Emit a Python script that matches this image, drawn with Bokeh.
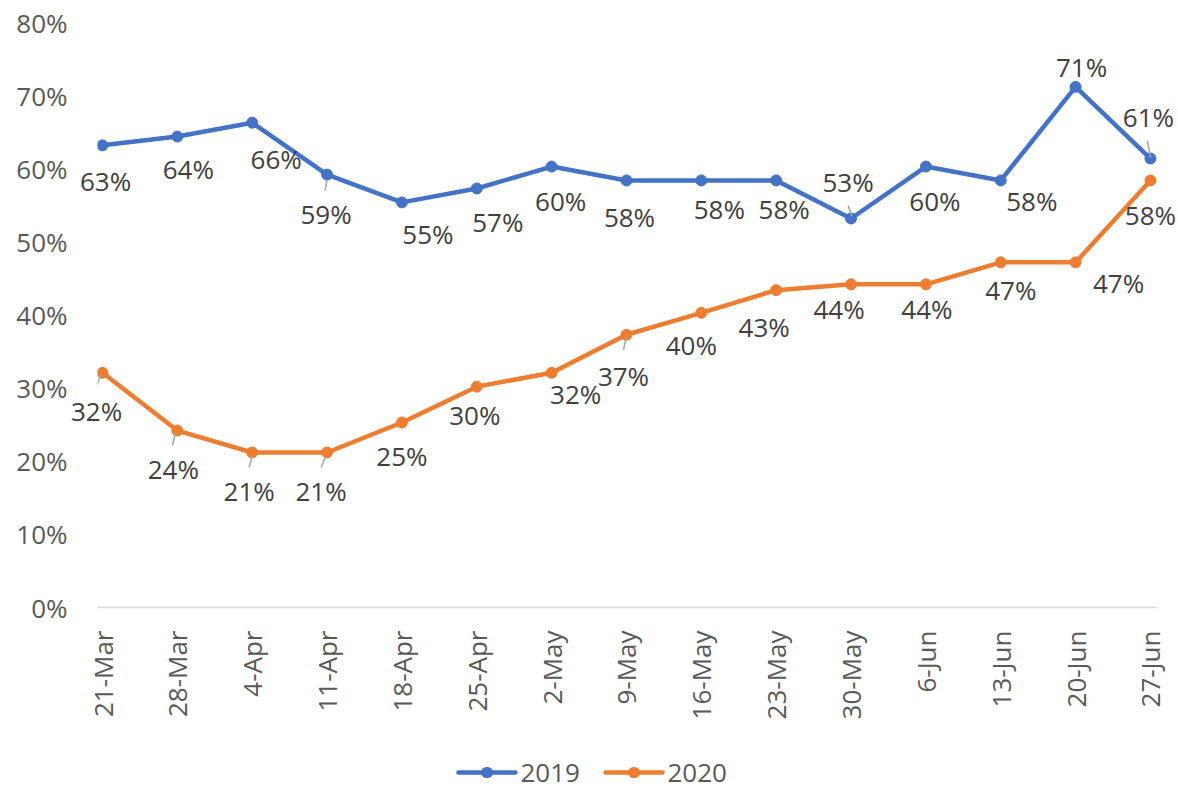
import math
from bokeh.plotting import figure
from bokeh.models import (ColumnDataSource, Range1d, FixedTicker, NumeralTickFormatter)
from bokeh.core.properties import value
from bokeh.embed import file_html
from bokeh.resources import INLINE

# ---- data ----
dates = ["21-Mar", "28-Mar", "4-Apr", "11-Apr", "18-Apr", "25-Apr", "2-May", "9-May",
         "16-May", "23-May", "30-May", "6-Jun", "13-Jun", "20-Jun", "27-Jun"]
# values (labels show them rounded)
val_2019 = [63.2, 64.4, 66.3, 59.2, 55.4, 57.3, 60.3, 58.4, 58.4, 58.4, 53.2, 60.3, 58.4, 71.2, 61.4]
val_2020 = [32.1, 24.2, 21.2, 21.2, 25.3, 30.2, 32.1, 37.3, 40.3, 43.4, 44.2, 44.2, 47.2, 47.2, 58.4]
series_names = ["2019", "2020"]
y_ticks = [0, 0.1, 0.2, 0.3, 0.4, 0.5, 0.6, 0.7, 0.8]

# ---- label placement (screen pixel offsets from each point; +dy = down) ----
lab_dx_2019 = [3, 11, 24, -1, 26, 21, 9, 3, 18, 8, -3, 9, 31, 6, -2]
lab_dy_2019 = [36, 32, 36, 39, 32, 34, 34, 37, 29, 29, -36, 34, 21, -20, -42]
lab_dx_2020 = [-6, -4, -3, -6, 0, -2, 24, -3, -10, -12, -12, 1, 10, 43, 0]
lab_dy_2020 = [38, 38, 39, 39, 34, 28, 21, 41, 32, 37, 25, 25, 28, 21, 35]

# leader lines: (index, x0, y0, x1, y1) in screen px relative to the point
leaders_2019 = [(3, 0, 5, -2, 16), (10, 1, -2, -3, -13), (14, 0, -1, -3, -18)]
leaders_2020 = [(0, -1, 1, -7, 15), (1, -2, 3, -5, 15), (2, 0, 3, -3, 15),
                (3, -1, 3, -6, 15), (7, 0, 2, -3, 15)]

# legend layout (screen px): left edge of each entry's line, and the row's centre y
legend_left_px = [458, 605]
legend_y_px = 772
legend_glyph_w = 57

BLUE = "#4472C4"
ORANGE = "#ED7D31"
COLORS = [BLUE, ORANGE]
FONT = "Open Sans"
FS = "26px"

W, H = 1178, 786
LEFT, RIGHT, TOP, BOTTOM = 97, 21, 22, 179
FW, FH = W - LEFT - RIGHT, H - TOP - BOTTOM
X0, X1 = -0.067, 14.094
Y0, Y1 = 0.0, 0.8
px_x = FW / (X1 - X0)
px_y = FH / (Y1 - Y0)


def sx(px):  # screen x -> data x
    return X0 + (px - LEFT) / px_x


def sy(py):  # screen y -> data y
    return Y0 + (TOP + FH - py) / px_y


xs = list(range(len(dates)))
v19 = [v / 100 for v in val_2019]
v20 = [v / 100 for v in val_2020]

p = figure(frame_width=FW, frame_height=FH, output_backend="svg", toolbar_location=None,
           x_range=Range1d(X0, X1), y_range=Range1d(Y0, Y1),
           min_border_left=LEFT, min_border_right=RIGHT,
           min_border_top=TOP, min_border_bottom=BOTTOM)
p.outline_line_color = None
p.xgrid.visible = False
p.ygrid.visible = False

# axes
p.yaxis.ticker = FixedTicker(ticks=y_ticks)
p.yaxis.formatter = NumeralTickFormatter(format="0%")
p.yaxis.axis_line_color = None
p.yaxis.major_tick_line_color = None
p.yaxis.minor_tick_line_color = None
p.yaxis.major_label_standoff = 24
p.yaxis.major_label_text_font = FONT
p.yaxis.major_label_text_font_size = FS
p.yaxis.major_label_text_color = "#595959"

p.xaxis.ticker = FixedTicker(ticks=xs)
p.xaxis.major_label_overrides = {i: d for i, d in enumerate(dates)}
p.xaxis.major_label_orientation = math.pi / 2
p.xaxis.axis_line_color = "#D9D9D9"
p.xaxis.axis_line_width = 1.5
p.xaxis.major_tick_line_color = None
p.xaxis.minor_tick_line_color = None
p.xaxis.major_label_standoff = 17
p.xaxis.major_label_text_font = FONT
p.xaxis.major_label_text_font_size = FS
p.xaxis.major_label_text_color = "#595959"

# series
src19 = ColumnDataSource(dict(x=xs, y=v19, t=[f"{round(v)}%" for v in val_2019],
                              dx=lab_dx_2019, dy=lab_dy_2019))
src20 = ColumnDataSource(dict(x=xs, y=v20, t=[f"{round(v)}%" for v in val_2020],
                              dx=lab_dx_2020, dy=lab_dy_2020))

for src, col in ((src19, BLUE), (src20, ORANGE)):
    p.line("x", "y", source=src, color=col, line_width=4.5, line_join="round")
    p.scatter("x", "y", source=src, color=col, size=11)


def leader_source(vals, leaders):
    x0, y0, x1, y1 = [], [], [], []
    for i, a, b, c, d in leaders:
        x0.append(i + a / px_x)
        y0.append(vals[i] - b / px_y)
        x1.append(i + c / px_x)
        y1.append(vals[i] - d / px_y)
    return ColumnDataSource(dict(x0=x0, y0=y0, x1=x1, y1=y1))


for vals, leaders in ((v19, leaders_2019), (v20, leaders_2020)):
    p.segment("x0", "y0", "x1", "y1", source=leader_source(vals, leaders),
              line_color="#A6A6A6", line_width=1.5)

for src in (src19, src20):
    p.text("x", "y", text="t", source=src, x_offset="dx", y_offset="dy",
           text_align="center", text_baseline="middle", level="overlay",
           text_font=value(FONT), text_font_size=FS, text_color="#404040")

# legend (drawn below the axis labels, centred under the chart)
leg = ColumnDataSource(dict(
    x0=[sx(l) for l in legend_left_px],
    x1=[sx(l + legend_glyph_w) for l in legend_left_px],
    xm0=[sx(l + legend_glyph_w / 2 - 0.5) for l in legend_left_px],
    xm1=[sx(l + legend_glyph_w / 2 + 0.5) for l in legend_left_px],
    xt=[sx(l + legend_glyph_w + 5) for l in legend_left_px],
    y=[sy(legend_y_px)] * len(series_names),
    name=series_names, color=COLORS))
p.segment("x0", "y", "x1", "y", source=leg, line_color="color", line_width=4.5,
          line_cap="round", level="overlay")
# legend markers: a tiny round-capped stroke drawn as a dot
p.segment("xm0", "y", "xm1", "y", source=leg, line_color="color", line_width=11,
          line_cap="round", level="overlay")
p.text("xt", "y", text="name", source=leg, text_align="left", text_baseline="middle",
       level="overlay", text_font=value(FONT), text_font_size=FS, text_color="#595959")

open("out.html", "w").write(file_html(p, INLINE))
